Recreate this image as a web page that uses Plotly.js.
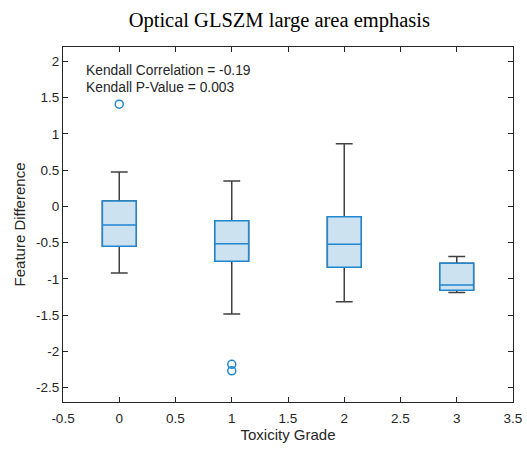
<!DOCTYPE html>
<html>
<head>
<meta charset="utf-8">
<script src="https://cdn.plot.ly/plotly-3.0.1.min.js"></script>
<style>
  html, body { margin: 0; padding: 0; background: #fff; }
  #chart { width: 527px; height: 449px; }
</style>
</head>
<body>
<div id="chart"></div>
<script>
// Toxicity grades and per-grade box statistics of the feature difference
const grades = [0, 1, 2, 3];
const q1Values = [-0.55, -0.758, -0.84, -1.158];
const medianValues = [-0.257, -0.515, -0.524, -1.085];
const q3Values = [0.074, -0.197, -0.142, -0.786];
const lowerWhisker = [-0.92, -1.485, -1.315, -1.19];
const upperWhisker = [0.475, 0.35, 0.865, -0.69];

// Outlying observations
const outlierGrades = [0, 1, 1];
const outlierValues = [1.41, -2.18, -2.27];

// Tick labels
const xTicks = [-0.5, 0, 0.5, 1, 1.5, 2, 2.5, 3, 3.5];
const yTicks = [-2.5, -2, -1.5, -1, -0.5, 0, 0.5, 1, 1.5, 2];

const statLines = ['Kendall Correlation = -0.19', 'Kendall P-Value = 0.003'];

const blue = '#1f86cf';
const dark = '#404040';
const sans = 'Liberation Sans, Arial, sans-serif';

// Whiskers with caps, drawn in dark grey
const whiskers = {
  type: 'box',
  x: grades,
  q1: q1Values,
  median: medianValues,
  q3: q3Values,
  lowerfence: lowerWhisker,
  upperfence: upperWhisker,
  width: 0.3,
  whiskerwidth: 0.5,
  boxpoints: false,
  line: { color: dark, width: 1.5 },
  fillcolor: 'rgba(0,0,0,0)',
  hoverinfo: 'skip',
  showlegend: false
};

// Shaded boxes with median line, drawn in blue on top
const boxes = {
  type: 'box',
  x: grades,
  q1: q1Values,
  median: medianValues,
  q3: q3Values,
  lowerfence: q1Values,
  upperfence: q3Values,
  width: 0.3,
  whiskerwidth: 0,
  boxpoints: false,
  line: { color: blue, width: 1.5 },
  fillcolor: '#cde2f1',
  hoverinfo: 'skip',
  showlegend: false
};

const outliers = {
  type: 'scatter',
  mode: 'markers',
  x: outlierGrades,
  y: outlierValues,
  marker: { symbol: 'circle-open', size: 8, color: blue, line: { width: 1.5, color: blue } },
  hoverinfo: 'skip',
  showlegend: false
};

const axisCommon = {
  showgrid: false,
  zeroline: false,
  showline: true,
  mirror: 'ticks',
  linecolor: '#262626',
  linewidth: 1,
  ticks: 'inside',
  ticklen: 5,
  tickwidth: 1,
  tickcolor: '#262626',
  tickfont: { family: sans, size: 13.5, color: '#262626' }
};

const layout = {
  width: 527,
  height: 449,
  margin: { l: 63, r: 14, t: 47, b: 47 },
  paper_bgcolor: '#ffffff',
  plot_bgcolor: '#ffffff',
  boxmode: 'overlay',
  title: {
    text: 'Optical GLSZM large area emphasis',
    font: { family: 'Liberation Serif, Times New Roman, serif', size: 20.5, color: '#000' },
    x: 0.53,
    xanchor: 'center',
    y: 0.955,
    yanchor: 'middle'
  },
  xaxis: Object.assign({}, axisCommon, {
    range: [-0.5, 3.5],
    tickvals: xTicks,
    ticktext: xTicks.map(String),
    ticklabelstandoff: 4,
    title: { text: 'Toxicity Grade', font: { family: sans, size: 15, color: '#262626' }, standoff: 2 }
  }),
  yaxis: Object.assign({}, axisCommon, {
    range: [-2.7, 2.2],
    tickvals: yTicks,
    ticktext: yTicks.map(String),
    title: { text: 'Feature Difference', font: { family: sans, size: 15, color: '#262626' }, standoff: 6 }
  }),
  annotations: statLines.map((t, i) => ({
    text: t,
    xref: 'paper',
    yref: 'paper',
    x: 0.046,
    y: 0.935 - i * 0.049,
    xanchor: 'left',
    yanchor: 'middle',
    showarrow: false,
    font: { family: sans, size: 13.8, color: '#262626' }
  }))
};

Plotly.newPlot('chart', [whiskers, boxes, outliers], layout, { displayModeBar: false, staticPlot: true });
</script>
</body>
</html>
